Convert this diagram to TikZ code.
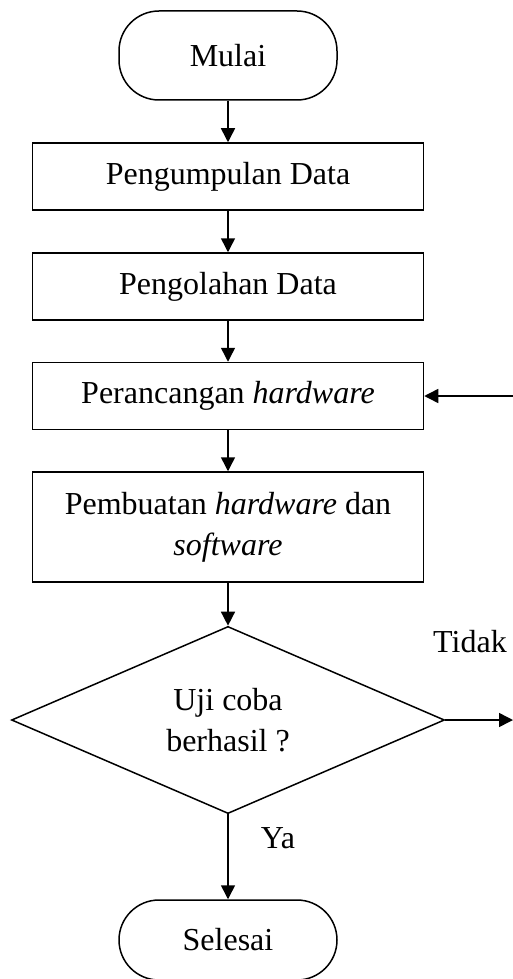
\documentclass[tikz,border=0pt]{standalone}
\usepackage{fontspec}
\setmainfont{Liberation Serif}
\usetikzlibrary{shapes.geometric,arrows.meta}

\begin{document}
\begin{tikzpicture}[
        x=1pt, y=1pt,
        font=\fontsize{32}{41}\selectfont,
        line width=1.5pt,
        terminal/.style={
            draw,
            rounded corners=40pt,
            minimum width=218pt,
            inner sep=0pt
        },
        process/.style={
            draw,
            minimum width=391pt,
            minimum height=67pt,
            inner sep=0pt
        },
        decision/.style={
            draw,
            diamond,
            align=center,
            minimum width=433pt,
            minimum height=185pt,
            inner sep=0pt
        },
        flow/.style={
            -{Triangle[length=14pt, width=14pt]}
        }
    ]
        \def\colx{228}
        \useasboundingbox (0,0) rectangle (513,-979);

        \node[terminal, minimum height=89pt] (mulai) at (\colx, -55.5) {Mulai};
        \node[process] (kumpul) at (\colx, -176.5) {Pengumpulan Data};
        \node[process] (olah) at (\colx, -286.5) {Pengolahan Data};
        \node[process] (rancang) at (\colx, -396) {Perancangan \textit{hardware}};
        \node[process, minimum height=110pt, align=center] (buat) at (\colx, -527)
            {Pembuatan \textit{hardware} dan\\\textit{software}};
        \node[decision] (uji) at (\colx, -720) {Uji coba\\berhasil ?};
        \node[terminal, minimum height=80pt] (selesai) at (\colx, -940) {Selesai};

        \coordinate (ulang) at (513, -396);
        \coordinate (gagal) at (513, -720);

        \draw[flow] (mulai) -- (kumpul);
        \draw[flow] (kumpul) -- (olah);
        \draw[flow] (olah) -- (rancang);
        \draw[flow] (rancang) -- (buat);
        \draw[flow] (buat) -- (uji);
        \draw[flow] (uji) -- (selesai);
        \draw[flow] (ulang) -- (rancang);
        \draw[flow] (uji) -- (gagal);

        \node (tidak) at (470, -642) {Tidak};
        \node (ya) at (278, -838) {Ya};

    \end{tikzpicture}
\end{document}
